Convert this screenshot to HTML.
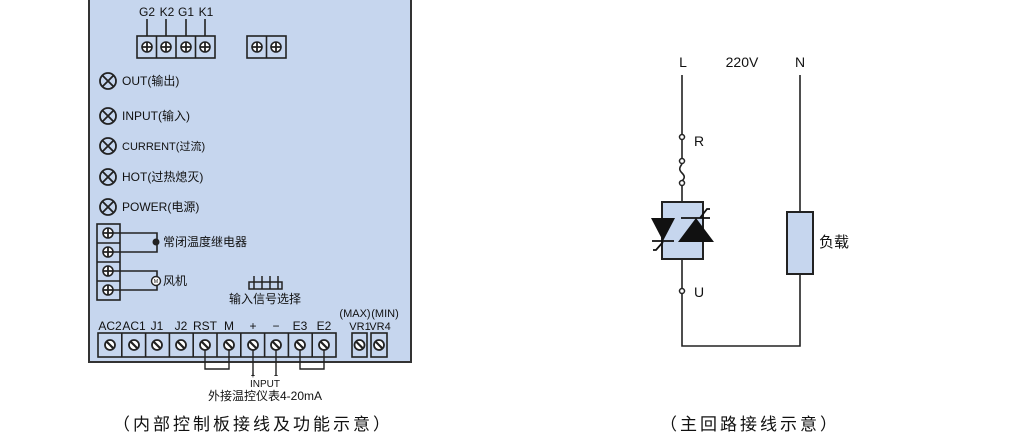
<!DOCTYPE html>
<html><head><meta charset="utf-8"><style>
html,body{margin:0;padding:0;background:#fff;}
svg{display:block;font-family:"Liberation Sans","Noto Sans CJK SC",sans-serif;}
</style></head><body>
<svg width="1013" height="437" viewBox="0 0 1013 437" xmlns="http://www.w3.org/2000/svg">
<defs>
<g id="ps"><circle r="5" fill="#fff" stroke="#222" stroke-width="1.6"/><path d="M-5 0H5M0 -5V5" stroke="#222" stroke-width="1.8"/></g>
<g id="ss"><circle r="5" fill="#fff" stroke="#222" stroke-width="1.8"/><path d="M-3 -3L3 3" stroke="#222" stroke-width="2.2"/></g>
<g id="led"><circle r="8" fill="none" stroke="#222" stroke-width="1.8"/><path d="M-5.6 -5.6L5.6 5.6M-5.6 5.6L5.6 -5.6" stroke="#222" stroke-width="1.8"/></g>
</defs>
<rect x="89" y="-2" width="322" height="364" fill="#c6d6ee" stroke="#333" stroke-width="2"/>
<g font-size="12" fill="#111" text-anchor="middle">
<text x="147" y="16">G2</text><text x="167" y="16">K2</text><text x="186" y="16">G1</text><text x="206" y="16">K1</text></g>
<path d="M147 19V36M166 19V36M186 19V36M205 19V36" stroke="#222" stroke-width="1.6"/>
<rect x="137" y="36" width="78" height="22" fill="#c6d6ee" stroke="#222" stroke-width="1.6"/>
<path d="M156.5 36V58M176 36V58M195.5 36V58" stroke="#222" stroke-width="1.6"/>
<use href="#ps" x="147" y="47"/><use href="#ps" x="166" y="47"/><use href="#ps" x="186" y="47"/><use href="#ps" x="205" y="47"/>
<rect x="247" y="36" width="39" height="22" fill="#c6d6ee" stroke="#222" stroke-width="1.6"/>
<path d="M266.5 36V58" stroke="#222" stroke-width="1.6"/>
<use href="#ps" x="257" y="47"/><use href="#ps" x="276" y="47"/>
<g font-size="12" fill="#111">
<use href="#led" x="108" y="81"/><text x="122" y="85">OUT(输出)</text>
<use href="#led" x="108" y="116"/><text x="122" y="120">INPUT(输入)</text>
<use href="#led" x="108" y="146"/><text x="122" y="150" font-size="11">CURRENT(过流)</text>
<use href="#led" x="108" y="177"/><text x="122" y="181">HOT(过热熄灭)</text>
<use href="#led" x="108" y="207"/><text x="122" y="211">POWER(电源)</text>
</g>
<rect x="97" y="224" width="23" height="76" fill="#c6d6ee" stroke="#222" stroke-width="1.6"/>
<path d="M97 243H120M97 262H120M97 281H120" stroke="#222" stroke-width="1.6"/>
<path d="M108 233H157V252H108M108 271H157V290H108" fill="none" stroke="#222" stroke-width="1.6"/>
<use href="#ps" x="108" y="233"/><use href="#ps" x="108" y="252"/><use href="#ps" x="108" y="271"/><use href="#ps" x="108" y="290"/>
<circle cx="156" cy="242" r="3.5" fill="#222"/>
<circle cx="156" cy="281" r="4.5" fill="#fff" stroke="#222" stroke-width="1.4"/>
<text x="156" y="283" font-size="5" text-anchor="middle">M</text>
<text x="163" y="246" font-size="12" fill="#111">常闭温度继电器</text>
<text x="163" y="285" font-size="12" fill="#111">风机</text>
<path d="M249 282H282V289H249ZM254 276V289M262 276V289M270 276V289M278 276V289" fill="none" stroke="#222" stroke-width="1.5"/>
<text x="265" y="303" font-size="12" fill="#111" text-anchor="middle">输入信号选择</text>
<g font-size="12" fill="#111" text-anchor="middle">
<text x="110" y="330">AC2</text><text x="134" y="330">AC1</text><text x="157" y="330">J1</text><text x="181" y="330">J2</text><text x="205" y="330">RST</text><text x="229" y="330">M</text><text x="253" y="330">+</text><text x="276" y="330">−</text><text x="300" y="330">E3</text><text x="324" y="330">E2</text>
<text x="355" y="317" font-size="11">(MAX)</text><text x="385" y="317" font-size="11">(MIN)</text>
<text x="360" y="330" font-size="11">VR1</text><text x="380" y="330" font-size="11">VR4</text>
</g>
<rect x="98" y="333" width="238" height="24" fill="#c6d6ee" stroke="#222" stroke-width="1.6"/>
<path d="M121.8 333V357M145.6 333V357M169.4 333V357M193.2 333V357M217 333V357M240.8 333V357M264.6 333V357M288.4 333V357M312.2 333V357" stroke="#222" stroke-width="1.6"/>
<use href="#ss" x="110" y="345"/><use href="#ss" x="134" y="345"/><use href="#ss" x="157" y="345"/><use href="#ss" x="181" y="345"/><use href="#ss" x="205" y="345"/><use href="#ss" x="229" y="345"/><use href="#ss" x="253" y="345"/><use href="#ss" x="276" y="345"/><use href="#ss" x="300" y="345"/><use href="#ss" x="324" y="345"/>
<rect x="352" y="333" width="15" height="24" fill="#c6d6ee" stroke="#222" stroke-width="1.6"/>
<rect x="371" y="333" width="16" height="24" fill="#c6d6ee" stroke="#222" stroke-width="1.6"/>
<use href="#ss" x="359.5" y="345"/><use href="#ss" x="379" y="345"/>
<path d="M205 350V369H229V350M300 350V369H324V350M253 350V376M276 350V376" fill="none" stroke="#222" stroke-width="1.4"/>
<text x="253" y="378" font-size="8" text-anchor="middle">+</text><text x="276" y="378" font-size="8" text-anchor="middle">−</text>
<text x="265" y="387" font-size="10" text-anchor="middle" fill="#111">INPUT</text>
<text x="265" y="400" font-size="12" text-anchor="middle" fill="#111">外接温控仪表4-20mA</text>
<text x="253" y="430" font-size="17" text-anchor="middle" fill="#111" letter-spacing="3">（内部控制板接线及功能示意）</text>
<g font-size="14" fill="#111" text-anchor="middle"><text x="683" y="67">L</text><text x="742" y="67">220V</text><text x="800" y="67">N</text></g>
<g stroke="#222" stroke-width="1.6" fill="none">
<path d="M682 75V134M682 140V158M682 186V202"/>
<path d="M682 164C679 168 679 170 682 173S685 178 682 181"/>
<path d="M682 259V288M682 294V346H800V274M800 212V75"/>
</g>
<g fill="#fff" stroke="#222" stroke-width="1.5"><circle cx="682" cy="137" r="2.5"/><circle cx="682" cy="161" r="2.5"/><circle cx="682" cy="183" r="2.5"/><circle cx="682" cy="291" r="2.5"/></g>
<text x="694" y="146" font-size="14" fill="#111">R</text>
<text x="694" y="297" font-size="14" fill="#111">U</text>
<rect x="662" y="202" width="41" height="57" fill="#c6d6ee" stroke="#222" stroke-width="2"/>
<path d="M651 218H675L663 241Z" fill="#111"/>
<path d="M652 241H674M663 242L656 250H653" stroke="#111" stroke-width="1.8" fill="none"/>
<path d="M678 242H714L696 218Z" fill="#111"/>
<path d="M681 218H710M700 218L707 209H710" stroke="#111" stroke-width="1.8" fill="none"/>
<rect x="787" y="212" width="26" height="62" fill="#c6d6ee" stroke="#222" stroke-width="2"/>
<text x="819" y="247" font-size="15" fill="#111">负载</text>
<text x="750" y="430" font-size="17" text-anchor="middle" fill="#111" letter-spacing="3">（主回路接线示意）</text>
</svg>
</body></html>
